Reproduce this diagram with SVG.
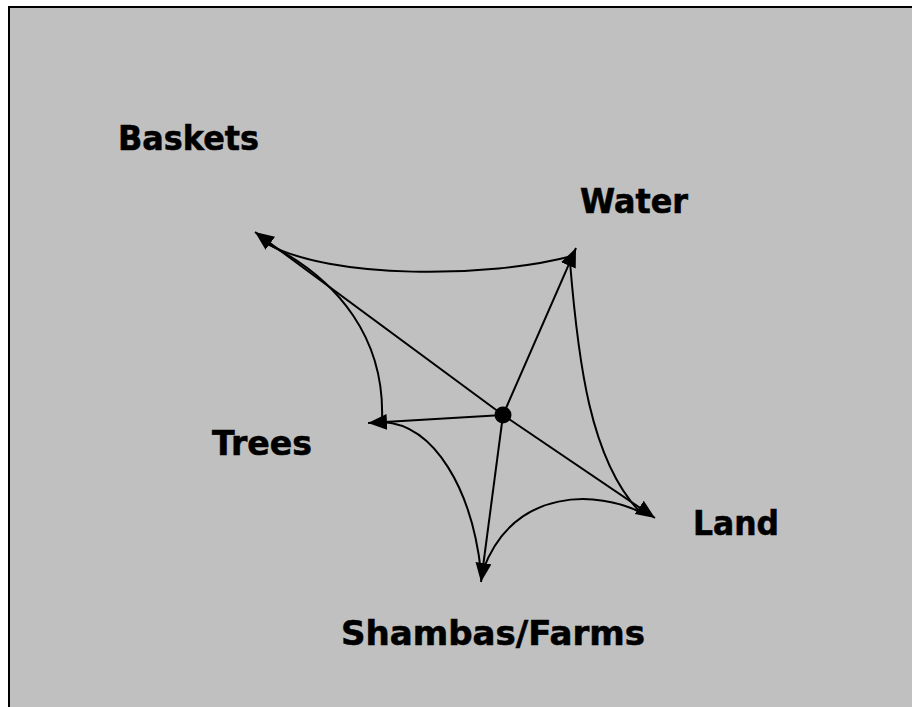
<svg xmlns="http://www.w3.org/2000/svg" width="912" height="707" viewBox="0 0 912 707">
<style>
.lbl{font-family:"DejaVu Sans","Verdana",sans-serif;font-weight:bold;font-size:34px;fill:#000;stroke:#000;stroke-width:0.6}
.ln{fill:none;stroke:#000;stroke-width:2}
</style>
<defs>
<marker id="ah" markerUnits="userSpaceOnUse" markerWidth="22" markerHeight="18" refX="19" refY="8" orient="auto">
<path d="M0,0 L19,8 L0,16 z" fill="#000"/>
</marker>
</defs>
<rect x="0" y="0" width="912" height="707" fill="#fff"/>
<rect x="9" y="7" width="910" height="710" fill="#c0c0c0" stroke="#000" stroke-width="2"/>
<g id="connectors">
<line class="ln" x1="503" y1="415" x2="255" y2="232" marker-end="url(#ah)"/>
<line class="ln" x1="503" y1="415" x2="576" y2="248" marker-end="url(#ah)"/>
<line class="ln" x1="503" y1="415" x2="368" y2="423" marker-end="url(#ah)"/>
<line class="ln" x1="503" y1="415" x2="481" y2="582" marker-end="url(#ah)"/>
<line class="ln" x1="503" y1="415" x2="655" y2="518" marker-end="url(#ah)"/>
<path class="ln" d="M266,243 C330,280 490,278 572,256"/>
<path class="ln" d="M570,262 C578,360 590,460 640,512"/>
<path class="ln" d="M640,512 C600,492 515,485 483,570"/>
<path class="ln" d="M383,422 C435,425 472,490 481,572"/>
<path class="ln" d="M382,420 C385,340 340,280 268,244"/>
</g>
<g id="hub"><circle cx="503" cy="415" r="8.5" fill="#000"/></g>
<g id="baskets"><text class="lbl" x="118" y="150" textLength="141" lengthAdjust="spacingAndGlyphs">Baskets</text></g>
<g id="water"><text class="lbl" x="580" y="213" textLength="108" lengthAdjust="spacingAndGlyphs">Water</text></g>
<g id="trees"><text class="lbl" x="212" y="455" textLength="100" lengthAdjust="spacingAndGlyphs">Trees</text></g>
<g id="land"><text class="lbl" x="693" y="535" textLength="86" lengthAdjust="spacingAndGlyphs">Land</text></g>
<g id="shambas"><text class="lbl" x="341" y="645" textLength="304" lengthAdjust="spacingAndGlyphs">Shambas/Farms</text></g>
</svg>
